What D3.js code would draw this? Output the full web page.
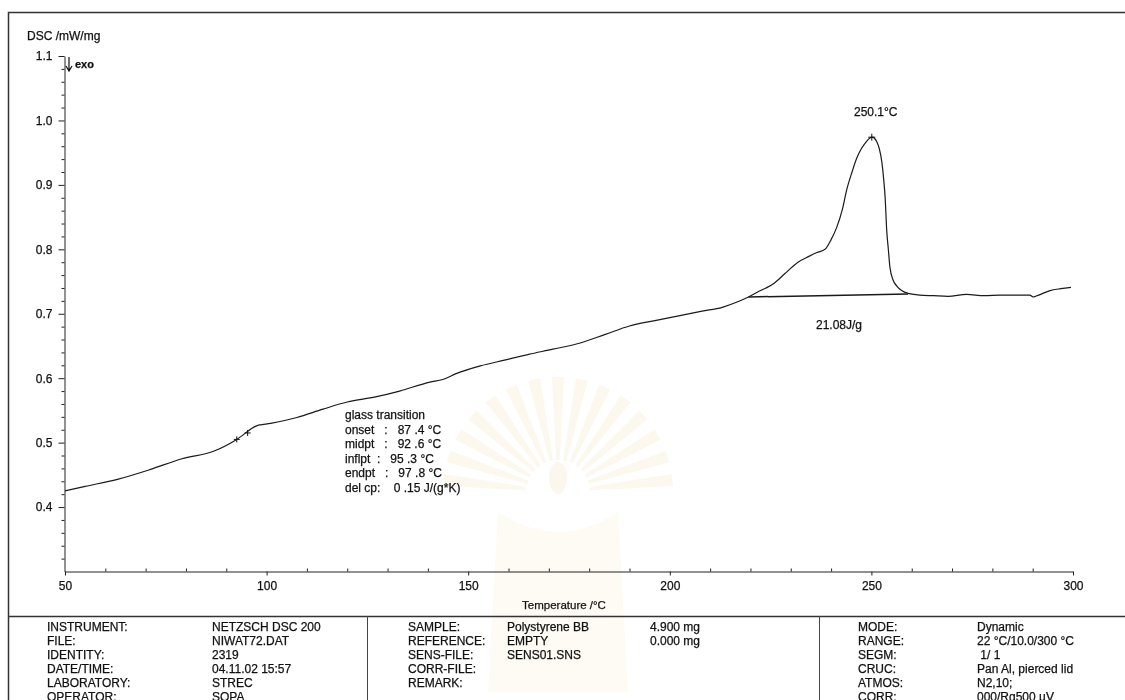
<!DOCTYPE html>
<html>
<head>
<meta charset="utf-8">
<script src="https://cdn.jsdelivr.net/npm/d3@7"></script>
<style>
  body { margin: 0; background: #fff; }
  svg text { font-family: "Liberation Sans", Arial, sans-serif; fill: #111; stroke: #111; stroke-width: 0.25px; }
</style>
</head>
<body>
<div id="chart"></div>
<script>
// DSC curve (temperature in °C, signal in mW/mg)
const temperature = [50, 55, 63, 71, 79, 87, 92.6, 97.5, 101, 107.5, 114, 120, 127, 133, 140.5, 143.7,
  147, 153, 159, 165, 171, 178, 184, 190, 196, 202.5, 208, 213, 217, 219.5, 222.5, 225.6, 228.5,
  231.8, 234.5, 236.5, 238.5, 240, 241.4, 242.8, 243.9, 245.2, 246.4, 247.5, 248.5, 249.3, 250.1,
  250.8, 251.4, 252, 252.6, 253.1, 253.4, 253.8, 254.2, 254.6, 255.4, 256.3, 257.5, 259.1, 262,
  265.4, 269, 273.6, 278, 281.9, 286, 289.3, 290.1, 291.5, 294.3, 297, 299.5];
const dscSignal = [0.425, 0.432, 0.443, 0.458, 0.475, 0.487, 0.505, 0.526, 0.530, 0.539, 0.552, 0.563, 0.571, 0.580, 0.594, 0.598,
  0.607, 0.619, 0.628, 0.637, 0.645, 0.655, 0.668, 0.681, 0.689, 0.697, 0.704, 0.710, 0.719, 0.726, 0.736, 0.746, 0.762,
  0.780, 0.789, 0.795, 0.800, 0.815, 0.834, 0.862, 0.893, 0.920, 0.942, 0.956, 0.965, 0.971, 0.974,
  0.972, 0.966, 0.955, 0.935, 0.905, 0.881, 0.829, 0.800, 0.772, 0.752, 0.743, 0.736, 0.7315, 0.729,
  0.728, 0.727, 0.730, 0.728, 0.729, 0.729, 0.729, 0.726, 0.729, 0.736, 0.739, 0.741];

const baselineTemp = [219.5, 259.1];
const baselineDsc = [0.726, 0.7305];
const peakTemp = 250.1;
const peakDsc = 0.974;
const glassMarks = [92.6, 95.3];
const glassMarkDsc = [0.505, 0.515];

const yTicks = [0.4, 0.5, 0.6, 0.7, 0.8, 0.9, 1.0, 1.1];
const xTicks = [50, 100, 150, 200, 250, 300];

const glassText = ['glass transition', 'onset   :   87 .4 \u00B0C', 'midpt   :   92 .6 \u00B0C',
  'inflpt  :   95 .3 \u00B0C', 'endpt   :   97 .8 \u00B0C', 'del cp:    0 .15 J/(g*K)'];

const infoLeft = [['INSTRUMENT:', 'NETZSCH DSC 200'], ['FILE:', 'NIWAT72.DAT'], ['IDENTITY:', '2319'],
  ['DATE/TIME:', '04.11.02 15:57'], ['LABORATORY:', 'STREC'], ['OPERATOR:', 'SOPA']];
const infoMiddle = [['SAMPLE:', 'Polystyrene BB', '4.900 mg'], ['REFERENCE:', 'EMPTY', '0.000 mg'],
  ['SENS-FILE:', 'SENS01.SNS', ''], ['CORR-FILE:', '', ''], ['REMARK:', '', '']];
const infoRight = [['MODE:', 'Dynamic'], ['RANGE:', '22 \u00B0C/10.0/300 \u00B0C'], ['SEGM:', ' 1/ 1'],
  ['CRUC:', 'Pan Al, pierced lid'], ['ATMOS:', 'N2,10;'], ['CORR:', '000/Rg500 \u00B5V']];

const width = 1125;
const height = 700;

let svg = d3.select('#chart').append('svg')
  .attr('width', width)
  .attr('height', height);

let x = d3.scaleLinear().domain([50, 300]).range([65, 1073]);
let y = d3.scaleLinear().domain([0.3, 1.1]).range([571.5, 56]);

// faint watermark behind the plot (the scanned page has a pale emblem)
let mark = svg.append('g').attr('transform', 'translate(558,492)').attr('opacity', 0.1);
d3.range(-84, 85, 12).forEach(function(a) {
  mark.append('path')
    .attr('d', 'M0,0L-6,-115L6,-115Z')
    .attr('transform', 'rotate(' + a + ')')
    .attr('fill', '#e2b850');
});
mark.append('circle').attr('r', 32).attr('fill', '#fff');
mark.append('ellipse').attr('cy', -14).attr('rx', 9).attr('ry', 16).attr('fill', '#dca83c');
mark.append('path')
  .attr('d', 'M-60,20Q0,60 60,20L70,200L-70,200Z')
  .attr('fill', '#e8cf88');

// outer frame and table separators
svg.append('path')
  .attr('d', 'M8.5,' + height + 'V12.5H' + width)
  .attr('fill', 'none').attr('stroke', '#333').attr('stroke-width', 1.5);
svg.append('line')
  .attr('x1', 8).attr('x2', width).attr('y1', 616.5).attr('y2', 616.5)
  .attr('stroke', '#333').attr('stroke-width', 1.3);
[367.5, 819.5].forEach(function(px) {
  svg.append('line')
    .attr('x1', px).attr('x2', px).attr('y1', 616).attr('y2', height)
    .attr('stroke', '#444').attr('stroke-width', 1);
});

// y axis
let yAxis = svg.append('g')
  .attr('transform', 'translate(64.5,0)')
  .call(d3.axisLeft(y).tickValues(yTicks).tickSize(6).tickSizeOuter(0).tickPadding(6)
    .tickFormat(d3.format('.1f')));
let yMinor = d3.range(0.32, 1.1, 0.02).filter(function(v) {
  return Math.abs(Math.round(v * 10) - v * 10) > 0.01;
});
svg.append('g')
  .attr('transform', 'translate(64.5,0)')
  .call(d3.axisLeft(y).tickValues(yMinor).tickSize(3).tickFormat(''))
  .select('.domain').remove();

// x axis, major ticks down and minor ticks up
let xAxis = svg.append('g')
  .attr('transform', 'translate(0,571.5)')
  .call(d3.axisBottom(x).tickValues(xTicks).tickSize(4).tickSizeOuter(0).tickPadding(6));
let xMinor = d3.range(60, 300, 10).filter(function(v) { return v % 50 !== 0; });
svg.append('g')
  .attr('transform', 'translate(0,571.5)')
  .call(d3.axisBottom(x).tickValues(xMinor).tickSize(-3).tickFormat(''))
  .select('.domain').remove();

svg.selectAll('.tick line, .domain').attr('stroke', '#222');
[yAxis, xAxis].forEach(function(g) {
  g.selectAll('text')
    .attr('font-family', '"Liberation Sans", Arial, sans-serif')
    .attr('font-size', 12)
    .attr('fill', '#111');
});

svg.append('text')
  .attr('x', 27).attr('y', 40)
  .attr('font-size', 12)
  .text('DSC /mW/mg');

svg.append('text')
  .attr('x', 564).attr('y', 609)
  .attr('text-anchor', 'middle')
  .attr('font-size', 11.5)
  .text('Temperature /\u00B0C');

// exo arrow
svg.append('path')
  .attr('d', 'M69,57V70M66,66L69,71L72,66')
  .attr('fill', 'none').attr('stroke', '#111').attr('stroke-width', 1.2);
svg.append('text')
  .attr('x', 75).attr('y', 68)
  .attr('font-size', 11)
  .attr('font-weight', 'bold')
  .text('exo');

// curve
let points = temperature.map(function(t, i) { return [t, dscSignal[i]]; });
let line = d3.line()
  .x(function(d) { return x(d[0]); })
  .y(function(d) { return y(d[1]); });

svg.append('path')
  .datum(points)
  .attr('d', line.curve(d3.curveMonotoneX))
  .attr('fill', 'none')
  .attr('stroke', '#1a1a1a')
  .attr('stroke-width', 1.2)
  .attr('stroke-linejoin', 'round');

// peak baseline
svg.append('path')
  .datum(baselineTemp.map(function(t, i) { return [t, baselineDsc[i]]; }))
  .attr('d', line.curve(d3.curveLinear))
  .attr('fill', 'none')
  .attr('stroke', '#1a1a1a')
  .attr('stroke-width', 1.5);

function cross(px, py, s) {
  svg.append('path')
    .attr('d', 'M' + (px - s) + ',' + py + 'H' + (px + s) + 'M' + px + ',' + (py - s) + 'V' + (py + s))
    .attr('stroke', '#111').attr('stroke-width', 1);
}
cross(x(peakTemp), y(peakDsc), 3.5);
glassMarks.forEach(function(t, i) { cross(x(t), y(glassMarkDsc[i]), 3); });

svg.append('text')
  .attr('x', 854).attr('y', 116)
  .attr('font-size', 12)
  .text('250.1\u00B0C');

svg.append('text')
  .attr('x', 816).attr('y', 329)
  .attr('font-size', 12)
  .text('21.08J/g');

svg.append('g')
  .selectAll('text')
  .data(glassText)
  .enter()
  .append('text')
  .attr('x', 345)
  .attr('y', function(d, i) { return 419 + i * 14.5; })
  .attr('font-size', 12)
  .style('white-space', 'pre')
  .text(function(d) { return d; });

// info table
function infoBlock(rows, cols) {
  let g = svg.append('g');
  rows.forEach(function(row, i) {
    row.forEach(function(cell, j) {
      if (!cell) return;
      g.append('text')
        .attr('x', cols[j])
        .attr('y', 631 + i * 14)
        .attr('font-size', 12)
        .style('white-space', 'pre')
        .text(cell);
    });
  });
}
infoBlock(infoLeft, [47, 212]);
infoBlock(infoMiddle, [408, 507, 650]);
infoBlock(infoRight, [858, 977]);
</script>
</body>
</html>
